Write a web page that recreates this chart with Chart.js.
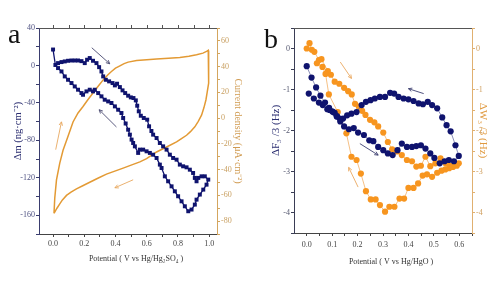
<!DOCTYPE html>
<html><head><meta charset="utf-8">
<script src="https://cdn.jsdelivr.net/npm/chart.js@4.4.1/dist/chart.umd.min.js"></script>
<style>
html,body{margin:0;padding:0;background:#fff;width:500px;height:285px;overflow:hidden}
.wrap{position:absolute;top:0;width:250px;height:285px}
#wa{left:0}#wb{left:250px}
.lbl{position:absolute;font-family:'Liberation Serif',serif;font-size:28px;color:#111;line-height:1}
</style></head><body>
<div class="wrap" id="wa"><canvas id="ca" width="250" height="285"></canvas></div>
<div class="wrap" id="wb"><canvas id="cb" width="250" height="285"></canvas></div>
<div class="lbl" style="left:8px;top:20px">a</div>
<div class="lbl" style="left:264px;top:25px">b</div>
<script>
// ---------- Panel a data ----------
// Δm (ng·cm⁻²) vs potential (V vs Hg/Hg2SO4), in scan order
const massLoop = [
[0.0,17],[0.015,0.5],[0.032,2.5],[0.054,3.6],[0.075,4.3],[0.096,5],[0.118,5.3],[0.139,5.3],[0.16,5.3],[0.182,4.6],[0.203,2.5],[0.218,6.1],[0.235,7.9],[0.256,5],[0.278,2.5],[0.295,-1.8],[0.31,-6.4],[0.321,-11.7],[0.338,-15.3],[0.359,-17],[0.381,-18.8],[0.396,-21.3],[0.41,-19.5],[0.428,-23.1],[0.445,-26.6],[0.462,-29.5],[0.481,-32.3],[0.498,-34.1],[0.515,-34.8],[0.53,-37.3],[0.539,-43],[0.549,-49],[0.562,-53.7],[0.581,-56.1],[0.603,-57.9],[0.615,-65],[0.63,-70],[0.641,-73.9],[0.663,-77.5],[0.684,-82.8],[0.705,-86.4],[0.727,-89.9],[0.748,-95.3],[0.769,-98.8],[0.791,-100.6],[0.812,-105.9],[0.833,-107.7],[0.855,-108.8],[0.876,-111.3],[0.897,-114.8],[0.908,-120.1],[0.919,-123.7],[0.93,-120.1],[0.951,-118.4],[0.972,-118.4],[0.994,-121.9],[0.983,-127.3],[0.962,-132.6],[0.94,-137.9],[0.919,-143.3],[0.908,-148.6],[0.887,-153.9],[0.866,-155.7],
[0.844,-150.4],[0.823,-145.1],[0.801,-139.7],[0.78,-134.4],[0.759,-129.1],[0.737,-123.7],[0.716,-118.4],[0.695,-109.5],[0.684,-105.9],[0.663,-98.8],[0.641,-95.3],[0.62,-93.4],[0.599,-91.7],[0.577,-89.9],[0.556,-89.9],[0.545,-93.4],[0.524,-86.4],[0.513,-82.8],[0.503,-79.2],[0.492,-73.9],[0.481,-68.6],[0.465,-62],[0.449,-56.1],[0.438,-50.8],[0.417,-47.3],[0.396,-43.7],[0.374,-40.1],[0.353,-38.4],[0.331,-36.6],[0.31,-33],[0.289,-29.5],[0.267,-25.9],[0.256,-27.7],[0.235,-25.9],[0.214,-27.7],[0.192,-31.3],[0.182,-29.5],[0.16,-25.9],[0.139,-22.4],[0.118,-18.8],[0.096,-15.3],[0.075,-11.7],[0.054,-6.4],[0.032,-2.8]
];
// Current density (μA·cm⁻²) CV curve
const currentCV = [
[0.006,-74],[0.011,-62],[0.022,-48],[0.043,-35],[0.064,-25],[0.096,-14],[0.128,-3],[0.16,4],[0.192,9],[0.224,14.5],[0.256,19.5],[0.29,25],[0.321,29.7],[0.35,33.5],[0.374,36.2],[0.4,38.8],[0.428,40.6],[0.455,42.3],[0.481,43.5],[0.535,44.8],[0.6,45.4],[0.663,45.9],[0.74,46.5],[0.812,47.1],[0.87,48],[0.919,49.2],[0.96,50.5],[0.983,51.8],[0.994,52.6],[0.998,45],[0.998,40.6],[0.996,33],[0.994,27.1],[0.987,20],[0.979,14.1],[0.966,8],[0.951,2.3],[0.93,-2.5],[0.908,-6.8],[0.88,-10.5],[0.855,-13.3],[0.82,-16.2],[0.791,-18.5],[0.727,-22.4],[0.663,-26.3],[0.599,-31.5],[0.556,-34],[0.5,-36.5],[0.449,-38.8],[0.4,-41],[0.342,-43.5],[0.29,-46.5],[0.235,-49.8],[0.19,-52.5],[0.15,-55],[0.115,-57.5],[0.086,-60],[0.06,-63.5],[0.043,-66.6],[0.025,-70],[0.006,-74]
];
const aXMajor = [0,0.2,0.4,0.6,0.8,1.0];
const aXMinor = [0.1,0.3,0.5,0.7,0.9];
const aYMajor = [40,0,-40,-80,-120,-160];
const aYMinor = [20,-20,-60,-100,-140,-180];
const aY1Major = [60,40,20,0,-20,-40,-60,-80];
const aY1Minor = [70,50,30,10,-10,-30,-50,-70,-90];
// scan direction arrows [x0,y0,x1,y1] (head at x1,y1)
const arrowsMassA = [[0.248,18.9,0.363,1.8],[0.406,-65.7,0.295,-47.3]];
const arrowsCurrentA = [[0.017,-24.5,0.054,-2.9],[0.513,-47.9,0.396,-54.1]];

// ---------- Panel b data ----------
// ΔF3/3 (Hz) vs potential (V vs Hg/HgO)
const freqLoop = [
[0.0,-0.43],[0.019,-0.71],[0.037,-0.95],[0.054,-1.15],[0.072,-1.32],[0.088,-1.45],[0.104,-1.55],[0.118,-1.66],[0.132,-1.78],[0.147,-1.90],[0.166,-1.97],[0.185,-1.94],[0.202,-2.05],[0.225,-2.11],[0.246,-2.24],[0.262,-2.26],[0.281,-2.40],[0.301,-2.48],[0.319,-2.56],[0.338,-2.60],[0.357,-2.48],[0.374,-2.32],[0.394,-2.40],[0.414,-2.40],[0.431,-2.38],[0.449,-2.36],[0.467,-2.44],[0.486,-2.56],[0.502,-2.67],[0.523,-2.80],[0.542,-2.75],[0.559,-2.72],[0.579,-2.75],[0.598,-2.62],
[0.585,-2.36],[0.566,-2.02],[0.55,-1.87],[0.533,-1.68],[0.513,-1.46],[0.493,-1.38],[0.476,-1.30],[0.457,-1.36],[0.440,-1.34],[0.420,-1.28],[0.400,-1.24],[0.381,-1.22],[0.361,-1.18],[0.344,-1.10],[0.328,-1.08],[0.308,-1.18],[0.288,-1.18],[0.268,-1.22],[0.251,-1.26],[0.233,-1.30],[0.216,-1.38],[0.196,-1.55],[0.176,-1.59],[0.159,-1.63],[0.143,-1.71],[0.13,-1.71],[0.119,-1.65],[0.11,-1.57],[0.1,-1.53],[0.09,-1.5],[0.081,-1.48],[0.063,-1.38],[0.048,-1.32],[0.028,-1.22],[0.008,-1.10]
];
// ΔW3/3 (Hz)
const widthLoop = [
[0.0,0.0],[0.011,0.13],[0.02,-0.03],[0.03,-0.08],[0.048,-0.28],[0.058,-0.26],[0.083,-0.55],[0.095,-0.64],[0.11,-0.81],[0.128,-0.86],[0.147,-0.96],[0.163,-1.04],[0.177,-1.12],[0.19,-1.35],[0.205,-1.42],[0.218,-1.52],[0.231,-1.62],[0.249,-1.74],[0.266,-1.80],[0.281,-1.90],[0.301,-2.05],[0.319,-2.28],[0.336,-2.46],[0.355,-2.51],[0.374,-2.60],[0.394,-2.72],[0.414,-2.75],[0.431,-2.88],[0.449,-2.86],[0.467,-2.64],[0.486,-2.87],[0.506,-2.80],[0.526,-2.68],[0.546,-2.80],[0.563,-2.86],[0.581,-2.83],[0.598,-2.80],
[0.59,-2.86],[0.575,-2.89],[0.56,-2.92],[0.545,-2.95],[0.53,-2.98],[0.513,-3.03],[0.493,-3.13],[0.473,-3.07],[0.456,-3.10],[0.438,-3.29],[0.42,-3.40],[0.40,-3.40],[0.383,-3.66],[0.365,-3.66],[0.345,-3.86],[0.325,-3.86],[0.308,-3.98],[0.288,-3.82],[0.271,-3.68],[0.252,-3.68],[0.233,-3.48],[0.213,-3.05],[0.196,-2.72],[0.176,-2.64],[0.156,-2.07],[0.122,-1.55],[0.087,-1.12],[0.074,-0.62],[0.062,-0.45],[0.04,-0.36]
];
const bXMajor = [0,0.1,0.2,0.3,0.4,0.5,0.6];
const bXMinor = [0.05,0.15,0.25,0.35,0.45,0.55,0.65];
const bYMajor = [0,-1,-2,-3,-4];
const bYMinor = [0.5,-0.5,-1.5,-2.5,-3.5,-4.5];
const arrowsFreqB = [[0.46,-1.10,0.40,-0.98],[0.209,-2.32,0.281,-2.60]];
const arrowsWidthB = [[0.132,-0.33,0.176,-0.73],[0.202,-3.38,0.165,-2.90]];

// ---------- helpers ----------
const FAM = "'Liberation Serif', 'Times New Roman', serif";
const NAVY = '#0f136e', ORANGE_LINE = '#e39a34', ORANGE_DOT = '#f7951f';
const pts = arr => arr.map(p => ({x:p[0], y:p[1]}));
const has = (list, v) => list.some(t => Math.abs(t - v) < 1e-6);

function axis(opts) {
  const all = opts.major.concat(opts.minor).sort((a,b)=>a-b);
  return {
    type:'linear', position:opts.pos, min:opts.min, max:opts.max,
    afterBuildTicks: s => { s.ticks = all.map(v => ({value:v})); },
    afterFit: s => { if (opts.w !== undefined) s.width = opts.w; if (opts.h !== undefined) s.height = opts.h; },
    ticks:{autoSkip:false, maxRotation:0, padding:opts.tpad,
      color:opts.labelColor, font:{family:FAM, size:8},
      callback: v => has(opts.major, v) ? opts.fmt(v) : ''},
    grid:{drawOnChartArea:false, drawTicks:true, tickLength:3, tickColor:opts.lineColor, tickWidth:1},
    border:{display:true, color:opts.lineColor, width:1},
    title:{display:true, text:opts.title, color:opts.titleColor,
      font:{family:FAM, size:opts.tsize}, padding:opts.titlePad}
  };
}

const framePlugin = {
  id:'frame',
  afterDatasetsDraw(chart, args, o) {
    const {ctx, chartArea:{left,right,top}} = chart;
    const xs = chart.scales.x;
    ctx.save();
    ctx.strokeStyle = o.color; ctx.lineWidth = 1;
    ctx.beginPath(); ctx.moveTo(left, top + 0.5); ctx.lineTo(right, top + 0.5); ctx.stroke();
    if (o.topTicks) {
      ctx.beginPath();
      xs.ticks.forEach(t => { const p = Math.round(xs.getPixelForValue(t.value)) + 0.5; ctx.moveTo(p, top); ctx.lineTo(p, top - 3); });
      ctx.stroke();
    }
    (o.arrows || []).forEach(g => {
      const ys = chart.scales[g.axis];
      ctx.strokeStyle = g.color; ctx.lineWidth = 0.9;
      g.list.forEach(a => {
        const x0 = xs.getPixelForValue(a[0]), y0 = ys.getPixelForValue(a[1]);
        const x1 = xs.getPixelForValue(a[2]), y1 = ys.getPixelForValue(a[3]);
        const ang = Math.atan2(y1 - y0, x1 - x0), L = 4, sp = 0.45;
        ctx.beginPath(); ctx.moveTo(x0, y0); ctx.lineTo(x1, y1);
        ctx.moveTo(x1 - L*Math.cos(ang - sp), y1 - L*Math.sin(ang - sp)); ctx.lineTo(x1, y1);
        ctx.lineTo(x1 - L*Math.cos(ang + sp), y1 - L*Math.sin(ang + sp));
        ctx.stroke();
      });
    });
    ctx.restore();
  }
};

const common = {
  responsive:false, animation:false, devicePixelRatio:1,
  events:[],
};

// ---------- Chart a ----------
new Chart(document.getElementById('ca'), {
  type:'scatter',
  data:{datasets:[
    {data:pts(massLoop), yAxisID:'y', showLine:true, borderColor:NAVY, borderWidth:1.3,
     pointStyle:'rect', pointRadius:2.8, pointBackgroundColor:NAVY, pointBorderWidth:0},
    {data:pts(currentCV), yAxisID:'y1', showLine:true, borderColor:ORANGE_LINE, borderWidth:1.5,
     pointRadius:0, tension:0}
  ]},
  options:Object.assign({}, common, {
    layout:{padding:{top:28, left:0, right:0, bottom:0}},
    plugins:{legend:{display:false}, tooltip:{enabled:false},
      frame:{color:'#555', topTicks:true, arrows:[
        {axis:'y', color:'#4a4a70', list:arrowsMassA},
        {axis:'y1', color:'#e8a860', list:arrowsCurrentA}]}},
    scales:{
      x: axis({pos:'bottom', min:-0.09, max:1.05, major:aXMajor, minor:aXMinor, h:51, tpad:2,
        fmt:v=>v.toFixed(1), labelColor:'#444', lineColor:'#444',
        title:'        Potential ( V vs Hg/Hg\u2082SO\u2084 )', titleColor:'#333', tsize:8, titlePad:{top:0,bottom:21}}),
      y: axis({pos:'left', min:-180, max:40, major:aYMajor, minor:aYMinor, w:39, tpad:1,
        fmt:v=>String(v), labelColor:'#4d5080', lineColor:'#3a3d6e',
        title:'\u0394m (ng\u00b7cm\u207b\u00b2)', titleColor:'#2a2d70', tsize:10.5, titlePad:{top:12,bottom:0}}),
      y1: axis({pos:'right', min:-90, max:70, major:aY1Major, minor:aY1Minor, w:33, tpad:1,
        fmt:v=>String(v), labelColor:'#c9a062', lineColor:'#d4a65e',
        title:'Current density (\u03bcA\u00b7cm\u207b\u00b2)', titleColor:'#d09a50', tsize:10, titlePad:{top:6,bottom:0}})
    }
  }),
  plugins:[framePlugin]
});

// ---------- Chart b ----------
new Chart(document.getElementById('cb'), {
  type:'scatter',
  data:{datasets:[
    {data:pts(freqLoop), yAxisID:'y', showLine:true, borderColor:'#5a5e9a', borderWidth:0.7,
     pointStyle:'circle', pointRadius:3.1, pointBackgroundColor:NAVY, pointBorderWidth:0},
    {data:pts(widthLoop), yAxisID:'y1', showLine:true, borderColor:'#f2b066', borderWidth:0.8,
     pointStyle:'circle', pointRadius:3.1, pointBackgroundColor:ORANGE_DOT, pointBorderWidth:0}
  ]},
  options:Object.assign({}, common, {
    layout:{padding:{top:28, left:0, right:0, bottom:0}},
    plugins:{legend:{display:false}, tooltip:{enabled:false},
      frame:{color:'#555', topTicks:false, arrows:[
        {axis:'y', color:'#3d3f70', list:arrowsFreqB},
        {axis:'y1', color:'#eaa860', list:arrowsWidthB}]}},
    scales:{
      x: axis({pos:'bottom', min:-0.05, max:0.65, major:bXMajor, minor:bXMinor, h:52, tpad:4,
        fmt:v=>v.toFixed(1), labelColor:'#444', lineColor:'#444',
        title:'        Potential ( V vs Hg/HgO )', titleColor:'#333', tsize:8, titlePad:{top:0,bottom:18}}),
      y: axis({pos:'left', min:-4.5, max:0.5, major:bYMajor, minor:bYMinor, w:44, tpad:1,
        fmt:v=>String(v), labelColor:'#555870', lineColor:'#3a3d55',
        title:'\u0394F\u2083 /3 (Hz)', titleColor:'#2a2d70', tsize:11, titlePad:{top:20,bottom:0}}),
      y1: axis({pos:'right', min:-4.5, max:0.5, major:bYMajor, minor:bYMinor, w:28, tpad:1,
        fmt:v=>String(v), labelColor:'#d0a060', lineColor:'#e0b070',
        title:'\u0394W\u2083 /3 (Hz)', titleColor:'#e09a40', tsize:11, titlePad:{top:11,bottom:0}})
    }
  }),
  plugins:[framePlugin]
});
</script>
</body></html>
